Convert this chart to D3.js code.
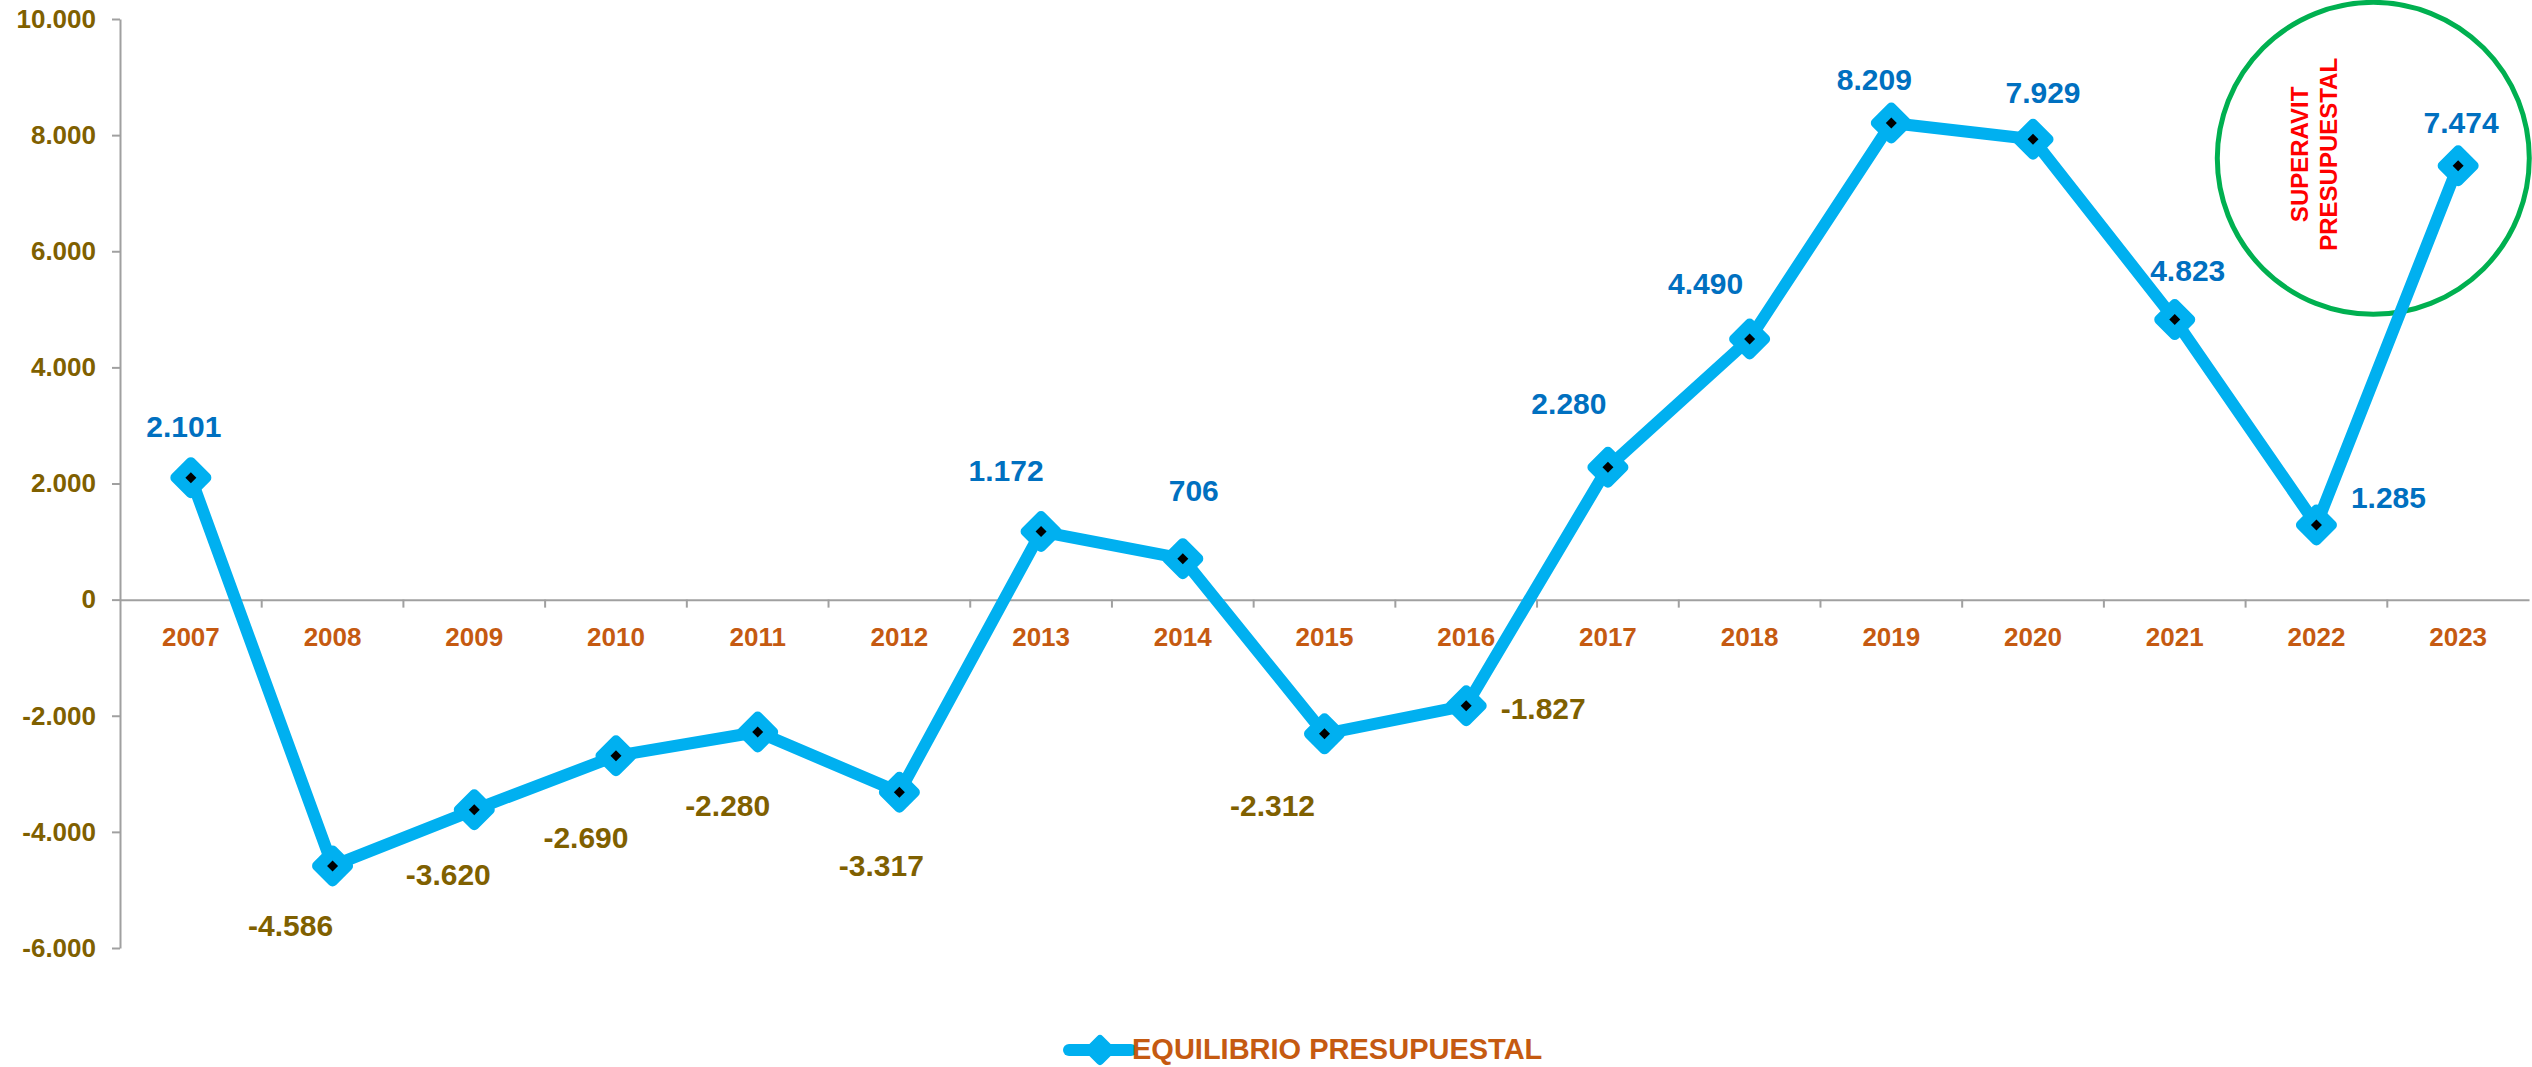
<!DOCTYPE html>
<html>
<head>
<meta charset="utf-8">
<script src="https://cdn.jsdelivr.net/npm/d3@7"></script>
<style>
  body { margin: 0; background: #ffffff; }
  svg { display: block; font-family: "Liberation Sans", Arial, sans-serif; font-weight: bold; }
</style>
</head>
<body>
<div id="vis"></div>
<script>
// data
const YEARS = ["2007", "2008", "2009", "2010", "2011", "2012", "2013", "2014", "2015",
               "2016", "2017", "2018", "2019", "2020", "2021", "2022", "2023"];
const VALUES = [2101, -4586, -3620, -2690, -2280, -3317, 1172, 706, -2312,
                -1827, 2280, 4490, 8209, 7929, 4823, 1285, 7474];
const Y_TICKS = [-6000, -4000, -2000, 0, 2000, 4000, 6000, 8000, 10000];
const SERIES_NAME = "EQUILIBRIO PRESUPUESTAL";
const NOTE_LINES = ["SUPERAVIT", "PRESUPUESTAL"];

// where each value label sits relative to its point (dx to centre, dy to baseline)
const LABEL_OFFSETS = [[-7, -41], [-42, 70], [-26, 75], [-30, 92], [-30, 84], [-18, 84],
                       [-35, -51], [11, -58], [-52, 82], [77, 13], [-39, -53], [-44, -45],
                       [-17, -33], [10, -36], [13, -39], [72, -17], [3, -33]];

// Frame
const FRAME_HEIGHT = 1067;
const FRAME_WIDTH = 2532;
const MARGINS = {left: 120, right: 3, top: 19, bottom: 119};

const VIS_HEIGHT = FRAME_HEIGHT - MARGINS.top - MARGINS.bottom;
const VIS_WIDTH = FRAME_WIDTH - MARGINS.left - MARGINS.right;

const BLUE_LINE = "#00b0f0";
const POS_COLOR = "#0070c0";
const NEG_COLOR = "#7f6000";
const CAT_COLOR = "#c55a11";
const AXIS_COLOR = "#a0a0a0";

const FRAME = d3.select("#vis")
                .append("svg")
                  .attr("width", FRAME_WIDTH)
                  .attr("height", FRAME_HEIGHT);

// number format with "." as thousands separator
const LOCALE = d3.formatLocale({decimal: ",", thousands: ".", grouping: [3],
                                currency: ["", ""], minus: "-"});
const FMT = LOCALE.format(",d");

const X_SCALE = d3.scaleBand()
                  .domain(YEARS)
                  .range([MARGINS.left, MARGINS.left + VIS_WIDTH])
                  .padding(0);

const Y_SCALE = d3.scaleLinear()
                  .domain([-6000, 10000])
                  .range([MARGINS.top + VIS_HEIGHT, MARGINS.top]);

const data = YEARS.map((y, i) => ({year: y, value: VALUES[i], off: LABEL_OFFSETS[i]}));
const cx = (d) => X_SCALE(d.year) + X_SCALE.bandwidth() / 2;
const cy = (d) => Y_SCALE(d.value);

// y axis
const yAxis = FRAME.append("g")
      .attr("transform", "translate(" + MARGINS.left + ",0)")
      .call(d3.axisLeft(Y_SCALE).tickValues(Y_TICKS).tickFormat(FMT)
              .tickSize(8).tickSizeOuter(0).tickPadding(16));
yAxis.select(".domain").attr("stroke", AXIS_COLOR).attr("stroke-width", 2);
yAxis.selectAll(".tick line").attr("stroke", AXIS_COLOR).attr("stroke-width", 2);
yAxis.selectAll(".tick text")
      .attr("fill", NEG_COLOR)
      .attr("font-size", "26px")
      .attr("font-family", "Liberation Sans, Arial, sans-serif")
      .attr("font-weight", "bold");

// x axis sitting on zero, ticks at category boundaries
const xAxis = FRAME.append("g")
      .attr("transform", "translate(0," + Y_SCALE(0) + ")")
      .call(d3.axisBottom(X_SCALE).tickSize(0).tickSizeOuter(0).tickPadding(28));
xAxis.select(".domain").attr("stroke", AXIS_COLOR).attr("stroke-width", 2);
xAxis.selectAll(".tick text")
      .attr("fill", CAT_COLOR)
      .attr("font-size", "26px")
      .attr("font-family", "Liberation Sans, Arial, sans-serif")
      .attr("font-weight", "bold");
xAxis.selectAll(".bound")
      .data(YEARS.slice(1))
      .enter()
      .append("line")
        .attr("x1", (d) => X_SCALE(d))
        .attr("x2", (d) => X_SCALE(d))
        .attr("y1", 0)
        .attr("y2", 8)
        .attr("stroke", AXIS_COLOR)
        .attr("stroke-width", 2);

// green circle annotation (drawn under the line)
const noteX = X_SCALE("2023") - 14;
const noteY = Y_SCALE(7600);
FRAME.append("circle")
      .attr("cx", noteX)
      .attr("cy", noteY)
      .attr("r", 156)
      .attr("fill", "none")
      .attr("stroke", "#00b050")
      .attr("stroke-width", 5);

const note = FRAME.append("text")
      .attr("transform", "translate(" + (noteX - 65) + "," + (noteY - 4) + ") rotate(-90)")
      .attr("text-anchor", "middle")
      .attr("fill", "#ff0000")
      .attr("font-size", "24px");
NOTE_LINES.forEach((t, i) => {
  note.append("tspan").attr("x", 0).attr("y", i * 29).text(t);
});

// the series line
const line = d3.line().x(cx).y(cy);
FRAME.append("path")
      .datum(data)
      .attr("d", line)
      .attr("fill", "none")
      .attr("stroke", BLUE_LINE)
      .attr("stroke-width", 12)
      .attr("stroke-linejoin", "round");

// diamond markers
const diamond = (r) => "M0," + (-r) + "L" + r + ",0L0," + r + "L" + (-r) + ",0Z";
const markers = FRAME.selectAll(".marker")
      .data(data)
      .enter()
      .append("g")
        .attr("transform", (d) => "translate(" + cx(d) + "," + cy(d) + ")");
markers.append("path")
      .attr("d", diamond(15.5))
      .attr("fill", BLUE_LINE)
      .attr("stroke", BLUE_LINE)
      .attr("stroke-width", 10)
      .attr("stroke-linejoin", "round");
markers.append("path")
      .attr("d", diamond(5.5))
      .attr("fill", "#000000");

// value labels
FRAME.selectAll(".lbl")
      .data(data)
      .enter()
      .append("text")
        .attr("x", (d) => cx(d) + d.off[0])
        .attr("y", (d) => cy(d) + d.off[1])
        .attr("text-anchor", "middle")
        .attr("font-size", "30px")
        .attr("fill", (d) => d.value < 0 ? NEG_COLOR : POS_COLOR)
        .text((d) => FMT(d.value));

// legend
const LEG_Y = 1050;
const LEG_X = 1100;
FRAME.append("line")
      .attr("x1", LEG_X - 31)
      .attr("x2", LEG_X + 31)
      .attr("y1", LEG_Y)
      .attr("y2", LEG_Y)
      .attr("stroke", BLUE_LINE)
      .attr("stroke-width", 12)
      .attr("stroke-linecap", "round");
FRAME.append("path")
      .attr("transform", "translate(" + LEG_X + "," + LEG_Y + ")")
      .attr("d", diamond(11))
      .attr("fill", BLUE_LINE)
      .attr("stroke", BLUE_LINE)
      .attr("stroke-width", 8)
      .attr("stroke-linejoin", "round");
FRAME.append("text")
      .attr("x", LEG_X + 32)
      .attr("y", LEG_Y + 9)
      .attr("fill", CAT_COLOR)
      .attr("font-size", "29px")
      .text(SERIES_NAME);
</script>
</body>
</html>
